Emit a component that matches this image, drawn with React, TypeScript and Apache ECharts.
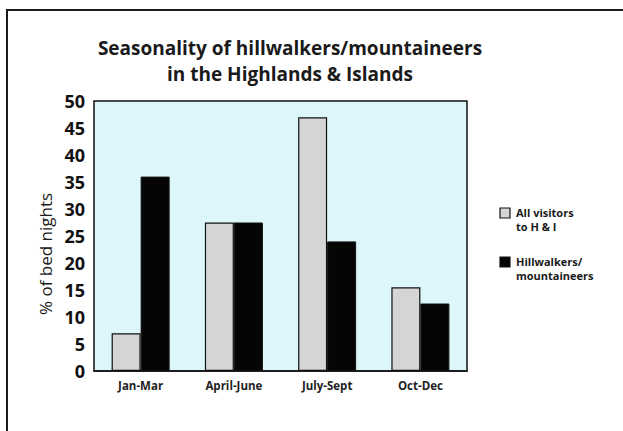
import React, { useEffect, useRef } from "react";
import * as echarts from "echarts";

// Quarter categories and share of bed nights (%) per group
const categories = ["Jan-Mar", "April-June", "July-Sept", "Oct-Dec"];
const allVisitors = [7, 27.5, 47, 15.5];
const hillwalkers = [36, 27.5, 24, 12.5];
const seriesNames = ["All visitors\nto H & I", "Hillwalkers/\nmountaineers"];
const seriesColors = ["#d5d5d5", "#050505"];
const titleText = "Seasonality of hillwalkers/mountaineers\nin the Highlands & Islands";
const yAxisName = "% of bed nights";

const FONT = "'Open Sans', 'Noto Sans', sans-serif";

export default function App() {
  const ref = useRef<HTMLDivElement>(null);

  useEffect(() => {
    document.body.style.margin = "0";
    if (!ref.current) return;
    const chart = echarts.init(ref.current, undefined, { renderer: "svg" });

    const legendItems = seriesNames.map((name, i) => ({
      type: "group",
      x: 500,
      y: 208 + i * 49,
      children: [
        {
          type: "rect",
          shape: { x: 0, y: 0, width: 10, height: 10 },
          style: { fill: seriesColors[i], stroke: "#111", lineWidth: 1.2 },
        },
        {
          type: "text",
          x: 16,
          y: -3,
          style: {
            text: name,
            fontFamily: FONT,
            fontSize: 11,
            fontWeight: "bold",
            lineHeight: 14,
            fill: "#1a1a1a",
            align: "left",
            verticalAlign: "top",
          },
        },
      ],
    }));

    chart.setOption({
      animation: false,
      backgroundColor: "#ffffff",
      textStyle: { fontFamily: FONT },
      grid: {
        left: 94,
        right: 156,
        top: 101,
        bottom: 60,
        show: true,
        backgroundColor: "#dcf6f9",
        borderColor: "#111",
        borderWidth: 1.5,
      },
      xAxis: {
        type: "category",
        data: categories,
        axisLine: { show: true, lineStyle: { color: "#111", width: 1.5 } },
        axisTick: { show: false },
        axisLabel: {
          fontFamily: FONT,
          fontSize: 11.5,
          fontWeight: "bold",
          color: "#222",
          margin: 8,
        },
      },
      yAxis: {
        type: "value",
        min: 0,
        max: 50,
        interval: 5,
        splitLine: { show: false },
        axisLine: { show: false },
        axisTick: { show: false },
        axisLabel: {
          fontFamily: FONT,
          fontSize: 18,
          fontWeight: "bold",
          color: "#111",
          margin: 9,
        },
        name: yAxisName,
        nameLocation: "middle",
        nameGap: 40,
        nameTextStyle: {
          fontFamily: FONT,
          fontSize: 17,
          color: "#1a1a1a",
          padding: [0, 36, 0, 0],
        },
      },
      series: [
        {
          name: seriesNames[0],
          type: "bar",
          data: allVisitors,
          barWidth: 29,
          barGap: "0%",
          itemStyle: { color: seriesColors[0], borderColor: "#111", borderWidth: 1.2 },
        },
        {
          name: seriesNames[1],
          type: "bar",
          data: hillwalkers,
          barWidth: 29,
          barGap: "0%",
          itemStyle: { color: seriesColors[1], borderColor: "#111", borderWidth: 1 },
        },
      ],
      graphic: [
        {
          type: "rect",
          shape: { x: 7, y: 10, width: 700, height: 500 },
          style: { fill: "none", stroke: "#1a1a1a", lineWidth: 2 },
          silent: true,
        },
        {
          type: "text",
          x: 290,
          y: 35,
          style: {
            text: titleText,
            fontFamily: FONT,
            fontSize: 19,
            fontWeight: "bold",
            lineHeight: 26,
            fill: "#1a1a1a",
            align: "center",
            verticalAlign: "top",
          },
        },
        ...legendItems,
      ],
    });

    return () => chart.dispose();
  }, []);

  return (
    <div
      ref={ref}
      style={{ position: "absolute", left: 0, top: 0, width: 623, height: 431 }}
    />
  );
}
